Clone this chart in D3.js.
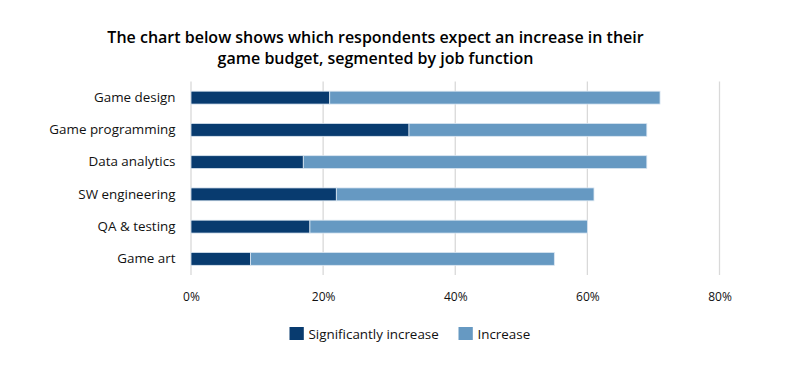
<!DOCTYPE html>
<html><head><meta charset="utf-8">
<script src="https://cdn.jsdelivr.net/npm/d3@7/dist/d3.min.js"></script>
<style>body{margin:0;background:#fff;} svg{display:block;}</style>
</head><body>
<svg id="chart" width="803" height="368"></svg>
<script>
const categories = ["Game design","Game programming","Data analytics","SW engineering","QA & testing","Game art"];
const significantlyIncrease = [21,33,17,22,18,9];
const increase = [50,36,52,39,42,46];
const seriesNames = ["Significantly increase","Increase"];
const xTicks = [0,20,40,60,80];
const titleLines = ["The chart below shows which respondents expect an increase in their","game budget, segmented by job function"];

const colors = ["#083b6f","#6699c2"];
const font = "Open Sans, sans-serif";
const svg = d3.select("#chart");

const x = d3.scaleLinear().domain([0,80]).range([191,719.5]);
const y = d3.scaleBand().domain(categories).range([81.5,275]).paddingInner(0.6).paddingOuter(0.3);

// title
const title = svg.append("g");
titleLines.forEach((t,i)=>{
  title.append("text").attr("x",375.5).attr("y",42.5+i*21).attr("text-anchor","middle")
    .attr("font-family",font).attr("font-weight",600).attr("font-size",16).attr("fill","#000").text(t);
});

// gridlines
svg.append("g").selectAll("line").data(xTicks).join("line")
  .attr("x1",d=>x(d)).attr("x2",d=>x(d)).attr("y1",81.5).attr("y2",275)
  .attr("stroke","#d9d9d9").attr("stroke-width",1.3);

// bars
const data = categories.map((c,i)=>({c, a:significantlyIncrease[i], b:increase[i]}));
const stack = d3.stack().keys(["a","b"])(data);
svg.append("g").selectAll("g").data(stack).join("g").attr("fill",(d,i)=>colors[i])
  .selectAll("rect").data(d=>d).join("rect")
  .attr("x",d=>x(d[0])).attr("width",d=>x(d[1])-x(d[0]))
  .attr("y",d=>y(d.data.c)).attr("height",y.bandwidth())
  .attr("stroke","#dbe7f2").attr("stroke-width",0.8);

// category axis
const yAxis = svg.append("g").attr("transform","translate(191,0)")
  .call(d3.axisLeft(y).tickSize(0).tickPadding(15.5));
yAxis.select(".domain").remove();
yAxis.selectAll("text").attr("font-family",font).attr("font-size",13.4).attr("fill","#111");

// x axis
const xAxis = svg.append("g").attr("transform","translate(0,283)")
  .call(d3.axisBottom(x).tickValues(xTicks).tickSize(0).tickPadding(9).tickFormat(d=>d+"%"));
xAxis.select(".domain").remove();
xAxis.selectAll("text").attr("font-family",font).attr("font-size",12).attr("fill","#111");

// legend
const legend = svg.append("g");
const lx = [289.5,458.5];
seriesNames.forEach((n,i)=>{
  legend.append("rect").attr("x",lx[i]).attr("y",327).attr("width",14.3).attr("height",13).attr("fill",colors[i]);
  legend.append("text").attr("x",lx[i]+19).attr("y",338.7).attr("font-family",font).attr("font-size",13.4).attr("fill","#111").text(n);
});
</script>
</body></html>
